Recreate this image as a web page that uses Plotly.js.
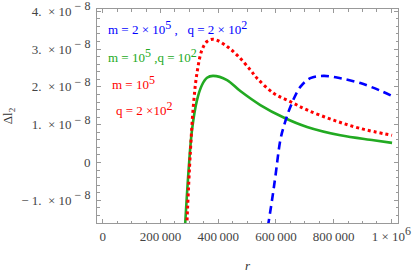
<!DOCTYPE html>
<html>
<head>
<meta charset="utf-8">
<script src="https://cdn.plot.ly/plotly-3.0.1.min.js"></script>
<style>html,body{margin:0;padding:0;background:#fff;}#chart{width:415px;height:277px;}</style>
</head>
<body>
<div id="chart"></div>
<script>
// r values, Δl2 values (units of 1e-8)
const blueR = [572000, 586400, 597900, 615200, 626700, 649900, 684500, 719200, 765300, 823200, 892500, 961800, 1002400];
const blueV = [-1.70, -1.00, -0.38, 0.59, 0.94, 1.47, 2.00, 2.23, 2.29, 2.23, 2.10, 1.90, 1.76];

const greenR = [285000, 297400, 309200, 326500, 343800, 361200, 382000, 430500, 476600, 545900, 626700, 707800, 823200, 938600, 1002400];
const greenV = [-1.70, -0.20, 0.86, 1.65, 2.05, 2.24, 2.29, 2.18, 1.89, 1.52, 1.19, 0.94, 0.72, 0.59, 0.52];

const redR = [291000, 303300, 314700, 326500, 343800, 361200, 384000, 430500, 470700, 511200, 534500, 592000, 649900, 707800, 800000, 892500, 1002400];
const redV = [-1.70, 0.25, 1.57, 2.37, 2.98, 3.20, 3.26, 3.07, 2.80, 2.45, 2.23, 1.83, 1.61, 1.39, 1.12, 0.90, 0.72];

const SUP = s => "<sup><span style='font-size:12px'>" + s + "</span></sup>";

const xTickVals = [0, 200000, 400000, 600000, 800000, 1000000];
const xTickText = ["0", "200\u2009000", "400\u2009000", "600\u2009000", "800\u2009000", "1 \u00d7 10" + SUP("6")];
const yTickVals = [-1e-8, 0, 1e-8, 2e-8, 3e-8, 4e-8];
const yExp = SUP(" \u2212 8");
const yTickText = ["\u2212 1.  \u00d7 10" + yExp, "0", "1.  \u00d7 10" + yExp, "2.  \u00d7 10" + yExp, "3.  \u00d7 10" + yExp, "4.  \u00d7 10" + yExp];

const labels = [
  {text: "m = 2 \u00d7 10" + SUP("5") + "\u00a0,\u00a0\u00a0\u00a0q = 2 \u00d7 10" + SUP("2"), color: "#0000ff", x: 0.03, y: 0.915},
  {text: "m = 10" + SUP("5") + " ,q = 10" + SUP("2"), color: "#22aa22", x: 0.03, y: 0.785},
  {text: "m = 10" + SUP("5"), color: "#ff0000", x: 0.043, y: 0.658},
  {text: "q = 2 \u00d710" + SUP("2"), color: "#ff0000", x: 0.057, y: 0.535}
];

const scale = v => v.map(a => a * 1e-8);
const SERIF = "Liberation Serif";

const traces = [
  {x: greenR, y: scale(greenV), mode: "lines", line: {color: "#22aa22", width: 2.6, shape: "spline"}},
  {x: redR, y: scale(redV), mode: "lines", line: {color: "#ff0000", width: 3, dash: "3px,3px", shape: "spline"}},
  {x: blueR, y: scale(blueV), mode: "lines", line: {color: "#0000ff", width: 2.6, dash: "8px,5px", shape: "spline"}}
];

const axisCommon = {
  showgrid: false, zeroline: false, showline: true, linecolor: "#999", linewidth: 1,
  mirror: "ticks", ticks: "inside", ticklen: 4, tickcolor: "#999", tickwidth: 1,
  ticklabeloverflow: "allow",
  tickfont: {family: SERIF, size: 13, color: "#444"}
};

const layout = {
  width: 415, height: 277,
  margin: {l: 97, r: 17, t: 9, b: 54},
  paper_bgcolor: "#fff", plot_bgcolor: "#fff",
  showlegend: false,
  font: {family: SERIF},
  xaxis: Object.assign({}, axisCommon, {
    range: [-20000, 1023000], tickmode: "array", tickvals: xTickVals, ticktext: xTickText,
    ticklabelstandoff: 1,
    minor: {dtick: 50000, tick0: 0, ticklen: 2.5, tickcolor: "#999", ticks: "inside"},
    title: {text: "<i>r</i>", font: {family: SERIF, size: 13, color: "#333"}, standoff: 18}
  }),
  yaxis: Object.assign({}, axisCommon, {
    range: [-1.6e-8, 4.06e-8], tickmode: "array", tickvals: yTickVals, ticktext: yTickText,
    ticklabelstandoff: 3,
    minor: {dtick: 2e-9, tick0: 0, ticklen: 2.5, tickcolor: "#999", ticks: "inside"},
    title: {text: "\u0394l<sub>2</sub>", font: {family: SERIF, size: 13, color: "#333"}, standoff: 14}
  }),
  annotations: labels.map(l => ({
    text: l.text, xref: "paper", yref: "paper", x: l.x, y: l.y,
    xanchor: "left", yanchor: "middle", showarrow: false,
    font: {family: SERIF, size: 13, color: l.color}
  }))
};

Plotly.newPlot("chart", traces, layout, {staticPlot: true, displayModeBar: false});
</script>
</body>
</html>
